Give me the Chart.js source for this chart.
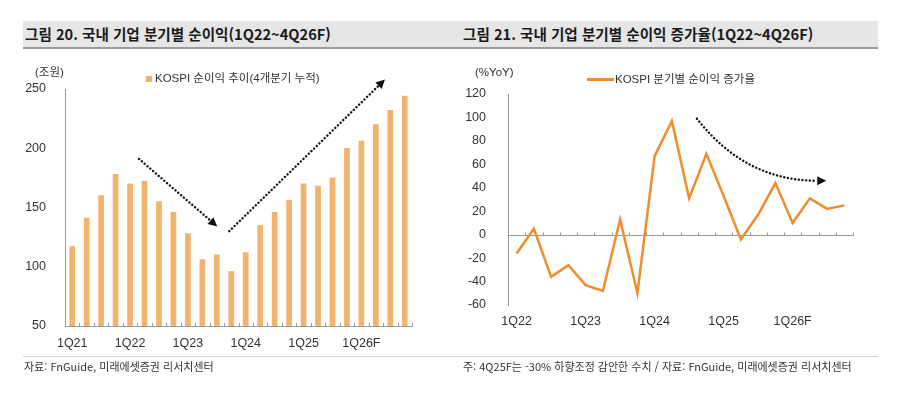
<!DOCTYPE html>
<html lang="ko">
<head>
<meta charset="utf-8">
<script src="https://cdn.jsdelivr.net/npm/chart.js@4/dist/chart.umd.min.js"></script>
<style>
    html, body { margin: 0; padding: 0; background: #fff; }
    body { width: 900px; height: 395px; position: relative; overflow: hidden;
           font-family: 'Liberation Sans', 'Noto Sans CJK KR', sans-serif; color: #333; }
    .title-bar { position: absolute; top: 21px; height: 26px; background: #e6e6e6;
                 border-bottom: 2px solid #9a9a9a; font-family: 'Noto Sans CJK KR', sans-serif;
                 font-weight: bold; font-size: 14.6px; line-height: 26px; color: #1a1a1a; }
    .title-bar span { position: absolute; left: 2px; top: 0; white-space: nowrap; }
    .sep { position: absolute; top: 356px; height: 1px; background: #d2d2d2; }
    .foot { position: absolute; top: 359px; font-size: 11px; line-height: 15px; white-space: nowrap;
            color: #333; font-family: 'Noto Sans CJK KR', sans-serif; letter-spacing: 0; }
    .txt { position: absolute; white-space: nowrap; font-size: 11.5px; line-height: 14px; color: #333; }
    .chart-box { position: absolute; top: 0; width: 450px; height: 395px; }
    canvas { display: block; }
</style>
</head>
<body>
<div class="title-bar" style="left:23px;width:427px;"><span>그림 20. 국내 기업 분기별 순이익(1Q22~4Q26F)</span></div>
<div class="title-bar" style="left:450px;width:428px;"><span style="left:13px;">그림 21. 국내 기업 분기별 순이익 증가율(1Q22~4Q26F)</span></div>

<div class="chart-box" style="left:0;"><canvas id="profitChart" width="450" height="395"></canvas></div>
<div class="chart-box" style="left:450px;"><canvas id="growthChart" width="450" height="395"></canvas></div>

<div class="txt" style="left:35px;top:65px;">(조원)</div>
<div style="position:absolute;left:146px;top:76px;width:6px;height:6px;background:#f1b36d;"></div>
<div class="txt" style="left:155px;top:71px;">KOSPI 순이익 추이(4개분기 누적)</div>

<div class="txt" style="left:475px;top:65px;">(%YoY)</div>
<div style="position:absolute;left:587px;top:78px;width:27px;height:2.5px;background:#f08c2c;"></div>
<div class="txt" style="left:615px;top:72px;">KOSPI 분기별 순이익 증가율</div>

<div class="sep" style="left:23px;width:427px;"></div>
<div class="sep" style="left:450px;width:428px;"></div>
<div class="foot" style="left:24px;">자료: FnGuide, 미래에셋증권 리서치센터</div>
<div class="foot" style="left:463px;">주: 4Q25F는 -30% 하향조정 감안한 수치 / 자료: FnGuide, 미래에셋증권 리서치센터</div>

<script>
'use strict';

// 분기 라벨 (4개분기 누적 순이익)
const profitQuarters = [
    '1Q21', '2Q21', '3Q21', '4Q21', '1Q22', '2Q22', '3Q22', '4Q22',
    '1Q23', '2Q23', '3Q23', '4Q23', '1Q24', '2Q24', '3Q24', '4Q24',
    '1Q25', '2Q25', '3Q25', '4Q25F', '1Q26F', '2Q26F', '3Q26F', '4Q26F'
];
// KOSPI 순이익 추이 (조원)
const profitValues = [
    117, 141, 160, 178, 170, 172, 155, 146,
    128, 106, 110, 96, 112, 135, 146, 156,
    170, 168, 175, 200, 206, 220, 232, 244
];
const profitTickLabels = ['1Q21', '1Q22', '1Q23', '1Q24', '1Q25', '1Q26F'];

// 증가율 차트 분기 라벨
const growthQuarters = [
    '1Q22', '2Q22', '3Q22', '4Q22', '1Q23', '2Q23', '3Q23', '4Q23',
    '1Q24', '2Q24', '3Q24', '4Q24', '1Q25', '2Q25', '3Q25', '4Q25F',
    '1Q26F', '2Q26F', '3Q26F', '4Q26F'
];
// KOSPI 분기별 순이익 증가율 (%YoY)
const growthValues = [
    -16, 5, -36, -26, -43, -48, 13, -50,
    67, 97, 31, 69, 33, -4, 17, 44,
    10, 31, 22, 25
];
const growthTickLabels = ['1Q22', '1Q23', '1Q24', '1Q25', '1Q26F'];

// 추세 화살표 (카테고리 인덱스, 값)
const profitDownArrow = [[4.62, 191], [10.03, 134]];
const profitUpArrow = [[10.86, 130], [21.63, 258]];
const growthCurveArrow = [[10.45, 99], [13.25, 46], [17.95, 46]];

const colors = {
    bar: '#f1b36d',
    line: '#f08c2c',
    axis: '#9a9a9a',
    text: '#333333',
    arrow: '#111111'
};

const tickFont = { family: "'Liberation Sans', 'Noto Sans CJK KR', sans-serif", size: 12.5 };

// 화살촉 그리기
function drawArrowHead(ctx, from, tip) {
    const ang = Math.atan2(tip.y - from.y, tip.x - from.x);
    const len = 9, half = 4.5;
    ctx.save();
    ctx.fillStyle = colors.arrow;
    ctx.translate(tip.x, tip.y);
    ctx.rotate(ang);
    ctx.beginPath();
    ctx.moveTo(0, 0);
    ctx.lineTo(-len, -half);
    ctx.lineTo(-len, half);
    ctx.closePath();
    ctx.fill();
    ctx.restore();
}

function toPixel(chart, p) {
    return { x: chart.scales.x.getPixelForValue(p[0]), y: chart.scales.y.getPixelForValue(p[1]) };
}

function dottedStyle(ctx) {
    ctx.strokeStyle = colors.arrow;
    ctx.lineWidth = 2.4;
    ctx.lineCap = 'round';
    ctx.setLineDash([0.1, 3.6]);
}

// 직선 점선 화살표
function drawStraightArrow(chart, pts) {
    const ctx = chart.ctx;
    const a = toPixel(chart, pts[0]);
    const b = toPixel(chart, pts[1]);
    const d = Math.hypot(b.x - a.x, b.y - a.y);
    const ex = b.x - (b.x - a.x) / d * 9;
    const ey = b.y - (b.y - a.y) / d * 9;
    ctx.save();
    dottedStyle(ctx);
    ctx.beginPath();
    ctx.moveTo(a.x, a.y);
    ctx.lineTo(ex, ey);
    ctx.stroke();
    ctx.restore();
    drawArrowHead(ctx, a, b);
}

// 곡선 점선 화살표
function drawCurveArrow(chart, pts) {
    const ctx = chart.ctx;
    const a = toPixel(chart, pts[0]);
    const c = toPixel(chart, pts[1]);
    const b = toPixel(chart, pts[2]);
    ctx.save();
    dottedStyle(ctx);
    ctx.beginPath();
    ctx.moveTo(a.x, a.y);
    ctx.quadraticCurveTo(c.x, c.y, b.x - 9, b.y);
    ctx.stroke();
    ctx.restore();
    drawArrowHead(ctx, c, b);
}

// 안쪽 방향 눈금
function drawInnerTicks(chart, baseY, count) {
    const ctx = chart.ctx;
    const x = chart.scales.x;
    ctx.save();
    ctx.strokeStyle = colors.axis;
    ctx.lineWidth = 1;
    for (let i = 0; i <= count; i++) {
        const px = Math.round(x.getPixelForValue(i - 0.5)) + 0.5;
        ctx.beginPath();
        ctx.moveTo(px, baseY);
        ctx.lineTo(px, baseY - 3);
        ctx.stroke();
    }
    ctx.restore();
}

const profitDecor = {
    id: 'profitDecor',
    afterDraw(chart) {
        drawInnerTicks(chart, chart.chartArea.bottom, profitQuarters.length);
        drawStraightArrow(chart, profitDownArrow);
        drawStraightArrow(chart, profitUpArrow);
    }
};

const growthDecor = {
    id: 'growthDecor',
    beforeDatasetsDraw(chart) {
        const ctx = chart.ctx;
        const y0 = Math.round(chart.scales.y.getPixelForValue(0)) + 0.5;
        ctx.save();
        ctx.strokeStyle = colors.axis;
        ctx.lineWidth = 1;
        ctx.beginPath();
        ctx.moveTo(chart.chartArea.left, y0);
        ctx.lineTo(chart.chartArea.right, y0);
        ctx.stroke();
        ctx.restore();
        drawInnerTicks(chart, y0, growthQuarters.length);
    },
    afterDraw(chart) {
        drawCurveArrow(chart, growthCurveArrow);
    }
};

function xTickCallback(labels, shown) {
    return function(value, index) {
        const lab = labels[index];
        return shown.includes(lab) ? lab : '';
    };
}

// 순이익 막대 차트
new Chart(document.getElementById('profitChart'), {
    type: 'bar',
    data: {
        labels: profitQuarters,
        datasets: [{
            label: 'KOSPI 순이익 추이(4개분기 누적)',
            data: profitValues,
            backgroundColor: colors.bar,
            barThickness: 5
        }]
    },
    options: {
        responsive: false,
        animation: false,
        events: [],
        layout: { padding: { top: 89, right: 38, bottom: 39, left: 0 } },
        plugins: { legend: { display: false }, tooltip: { enabled: false } },
        scales: {
            x: {
                offset: true,
                grid: { display: false },
                border: { display: true, color: colors.axis, width: 1 },
                ticks: {
                    autoSkip: false, maxRotation: 0, padding: 2,
                    color: colors.text, font: tickFont,
                    callback: xTickCallback(profitQuarters, profitTickLabels)
                },
                afterFit: s => { s.height = 30; }
            },
            y: {
                min: 50, max: 250,
                grid: { display: false },
                border: { display: true, color: colors.axis, width: 1 },
                ticks: { stepSize: 50, padding: 11, color: colors.text, font: tickFont },
                afterFit: s => { s.width = 65; }
            }
        }
    },
    plugins: [profitDecor]
});

// 증가율 선 차트
new Chart(document.getElementById('growthChart'), {
    type: 'line',
    data: {
        labels: growthQuarters,
        datasets: [{
            label: 'KOSPI 분기별 순이익 증가율',
            data: growthValues,
            borderColor: colors.line,
            borderWidth: 2.5,
            pointRadius: 0,
            tension: 0,
            fill: false
        }]
    },
    options: {
        responsive: false,
        animation: false,
        events: [],
        layout: { padding: { top: 94, right: 47, bottom: 60, left: 0 } },
        plugins: { legend: { display: false }, tooltip: { enabled: false } },
        scales: {
            x: {
                offset: true,
                grid: { display: false },
                border: { display: false },
                ticks: {
                    autoSkip: false, maxRotation: 0, padding: 1,
                    color: colors.text, font: tickFont,
                    callback: xTickCallback(growthQuarters, growthTickLabels)
                },
                afterFit: s => { s.height = 30; }
            },
            y: {
                min: -60, max: 120,
                grid: { display: false },
                border: { display: true, color: colors.axis, width: 1 },
                ticks: { stepSize: 20, padding: 14, color: colors.text, font: tickFont },
                afterFit: s => { s.width = 58; }
            }
        }
    },
    plugins: [growthDecor]
});
</script>
</body>
</html>
